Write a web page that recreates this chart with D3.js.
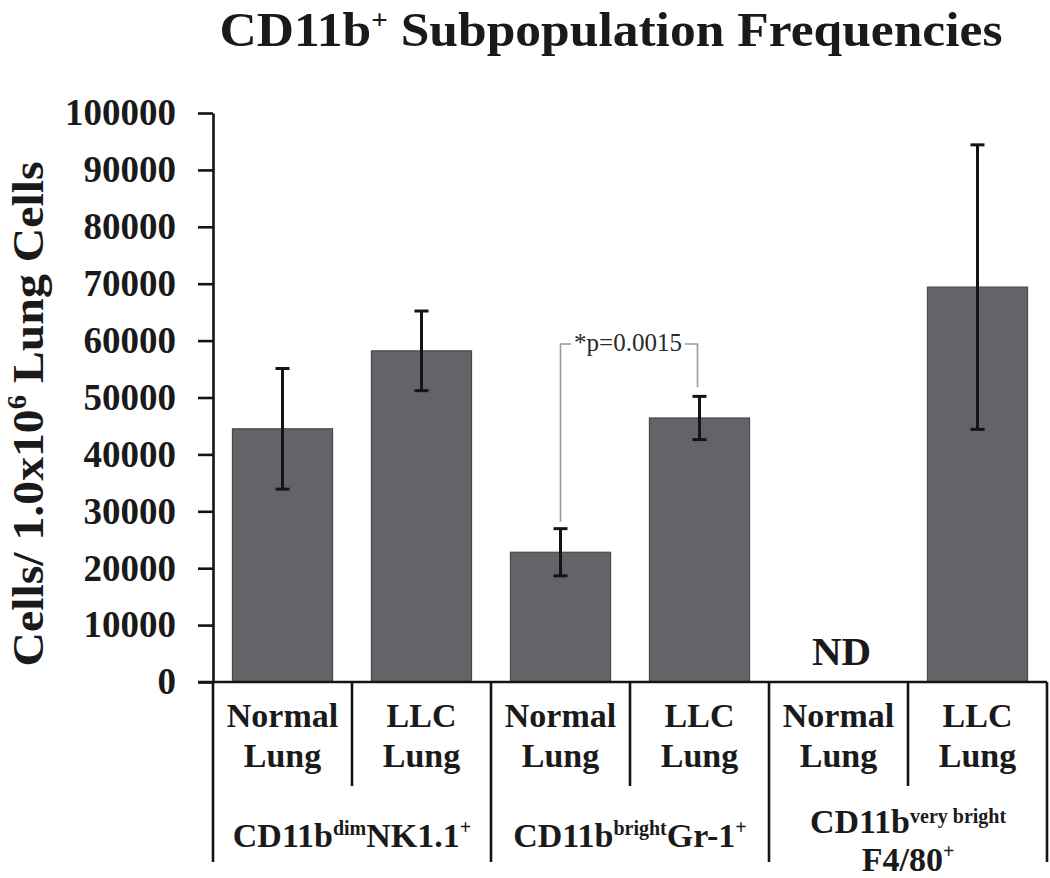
<!DOCTYPE html>
<html>
<head>
<meta charset="utf-8">
<script src="https://cdn.jsdelivr.net/npm/d3@7"></script>
<style>
  html, body { margin: 0; padding: 0; background: #fff; }
  svg { display: block; font-family: "Liberation Serif", "Times New Roman", serif; }
</style>
</head>
<body>
<svg id="chart" width="1050" height="878"></svg>
<script>
// ---- data ----
const categories = ["NK-Normal", "NK-LLC", "Gr-Normal", "Gr-LLC", "F4-Normal", "F4-LLC"];
const line1Labels = ["Normal", "LLC", "Normal", "LLC", "Normal", "LLC"];
const line2Labels = ["Lung", "Lung", "Lung", "Lung", "Lung", "Lung"];
const means = [44500, 58200, 22800, 46400, null, 69400];
const errors = [10600, 7000, 4150, 3800, null, 25000];
const ndLabels = [null, null, null, null, "ND", null];
const yTicks = [0, 10000, 20000, 30000, 40000, 50000, 60000, 70000, 80000, 90000, 100000];
const pValueText = "*p=0.0015";
const bracketPair = [2, 3];
const bracketValue = 59400;

(function () {
// ---- layout ----
const svg = d3.select("#chart");
const pLeft = 213, pRight = 1047, pTop = 113, pBase = 682;

const x = d3.scaleBand().domain(categories).range([pLeft, pRight])
  .paddingInner(0.28).paddingOuter(0.14);
const step = x.step();
const y = d3.scaleLinear().domain([0, 100000]).range([pBase, pTop]);

// Title
const title = svg.append("text")
  .attr("x", 611).attr("y", 46)
  .attr("text-anchor", "middle")
  .attr("textLength", 783).attr("lengthAdjust", "spacingAndGlyphs")
  .attr("font-weight", "bold").attr("font-size", 48).attr("fill", "#1a1a1a");
title.append("tspan").text("CD11b");
title.append("tspan").attr("font-size", 27).attr("dy", -17).text("+");
title.append("tspan").attr("dy", 17).text(" Subpopulation Frequencies");

// Y axis label
const yl = svg.append("text")
  .attr("transform", "translate(43,414) rotate(-90)")
  .attr("text-anchor", "middle")
  .attr("textLength", 505).attr("lengthAdjust", "spacingAndGlyphs")
  .attr("font-weight", "bold").attr("font-size", 45).attr("fill", "#1a1a1a");
yl.append("tspan").text("Cells/ 1.0x10");
yl.append("tspan").attr("font-size", 27).attr("dy", -17).text("6");
yl.append("tspan").attr("dy", 17).text(" Lung Cells");

// Bars
const data = categories.map((c, i) => ({ c, m: means[i], e: errors[i], nd: ndLabels[i] }));
svg.append("g").selectAll("rect")
  .data(data.filter(d => d.m != null))
  .join("rect")
  .attr("x", d => x(d.c))
  .attr("y", d => y(d.m))
  .attr("width", x.bandwidth())
  .attr("height", d => y(0) - y(d.m))
  .attr("fill", "#636468")
  .attr("stroke", "#48494d")
  .attr("stroke-width", 1.2);

// Error bars
const eg = svg.append("g").attr("stroke", "#141414").attr("stroke-width", 3);
data.filter(d => d.m != null).forEach(d => {
  const cx = x(d.c) + x.bandwidth() / 2;
  eg.append("line").attr("x1", cx).attr("x2", cx).attr("y1", y(d.m + d.e)).attr("y2", y(d.m - d.e));
  eg.append("line").attr("x1", cx - 7).attr("x2", cx + 7).attr("y1", y(d.m + d.e)).attr("y2", y(d.m + d.e));
  eg.append("line").attr("x1", cx - 7).attr("x2", cx + 7).attr("y1", y(d.m - d.e)).attr("y2", y(d.m - d.e));
});

// ND labels
svg.append("g").selectAll("text")
  .data(data.filter(d => d.nd))
  .join("text")
  .attr("x", d => x(d.c) + x.bandwidth() / 2 + 3)
  .attr("y", y(0) - 17)
  .attr("text-anchor", "middle")
  .attr("font-weight", "bold").attr("font-size", 41).attr("fill", "#1a1a1a")
  .text(d => d.nd);

// Y axis
const yAxis = svg.append("g")
  .attr("transform", `translate(${pLeft},0)`)
  .call(d3.axisLeft(y).tickValues(yTicks).tickSize(15).tickSizeOuter(0).tickPadding(22).tickFormat(d => String(d)));
yAxis.select(".domain").attr("stroke", "#141414").attr("stroke-width", 2.6);
yAxis.selectAll(".tick line").attr("stroke", "#141414").attr("stroke-width", 2.6);
yAxis.selectAll(".tick text")
  .attr("font-family", "Liberation Serif, Times New Roman, serif")
  .attr("font-weight", "bold").attr("font-size", 37).attr("fill", "#1a1a1a");

// X axis baseline
svg.append("line")
  .attr("x1", pLeft - 15).attr("x2", pRight)
  .attr("y1", y(0)).attr("y2", y(0))
  .attr("stroke", "#141414").attr("stroke-width", 2.6);

// Separators
const sepG = svg.append("g").attr("stroke", "#141414").attr("stroke-width", 2.6);
for (let i = 0; i <= categories.length; i++) {
  const sx = pLeft + i * step;
  const isGroup = i % 2 === 0;
  sepG.append("line")
    .attr("x1", sx).attr("x2", sx)
    .attr("y1", y(0)).attr("y2", isGroup ? 862 : 786);
}

// Category labels
const catG = svg.append("g")
  .attr("font-weight", "bold").attr("font-size", 34).attr("fill", "#1a1a1a")
  .attr("text-anchor", "middle");
categories.forEach((c, i) => {
  const cx = x(c) + x.bandwidth() / 2;
  catG.append("text").attr("x", cx).attr("y", 727).text(line1Labels[i]);
  catG.append("text").attr("x", cx).attr("y", 767).text(line2Labels[i]);
});

// Group labels
const gCenter = g => pLeft + (2 * g + 1) * step;
const gG = svg.append("g")
  .attr("font-weight", "bold").attr("font-size", 34).attr("fill", "#1a1a1a")
  .attr("text-anchor", "middle");

let t = gG.append("text").attr("x", gCenter(0)).attr("y", 847);
t.append("tspan").text("CD11b");
t.append("tspan").attr("font-size", 20).attr("dy", -12).text("dim");
t.append("tspan").attr("dy", 12).text("NK1.1");
t.append("tspan").attr("font-size", 20).attr("dy", -13).text("+");

t = gG.append("text").attr("x", gCenter(1)).attr("y", 847);
t.append("tspan").text("CD11b");
t.append("tspan").attr("font-size", 20).attr("dy", -12).text("bright");
t.append("tspan").attr("dy", 12).text("Gr-1");
t.append("tspan").attr("font-size", 20).attr("dy", -13).text("+");

t = gG.append("text").attr("x", gCenter(2)).attr("y", 833);
t.append("tspan").text("CD11b");
t.append("tspan").attr("font-size", 20).attr("dy", -10).text("very bright");
t = gG.append("text").attr("x", gCenter(2)).attr("y", 871);
t.append("tspan").text("F4/80");
t.append("tspan").attr("font-size", 20).attr("dy", -13).text("+");

// Significance bracket
const bx1 = x(categories[bracketPair[0]]) + x.bandwidth() / 2;
const bx2 = x(categories[bracketPair[1]]) + x.bandwidth() / 2 - 2;
const by = y(bracketValue);
const midX = (bx1 + bx2) / 2 - 1;
const pText = svg.append("text")
  .attr("x", midX).attr("y", by + 7)
  .attr("text-anchor", "middle")
  .attr("font-size", 25).attr("fill", "#2a2a2a")
  .text(pValueText);
const tw = pText.node().getComputedTextLength();
const tx1 = midX - tw / 2 - 3;
const tx2 = midX + tw / 2 + 3;
const e1 = y(means[bracketPair[0]] + errors[bracketPair[0]]) - 7;
const e2 = y(means[bracketPair[1]] + errors[bracketPair[1]]) - 9;
svg.append("path")
  .attr("d", `M${bx1},${e1}V${by}H${tx1}M${tx2},${by}H${bx2}V${e2}`)
  .attr("fill", "none").attr("stroke", "#9a9a9a").attr("stroke-width", 1.6);
})();
</script>
</body>
</html>
